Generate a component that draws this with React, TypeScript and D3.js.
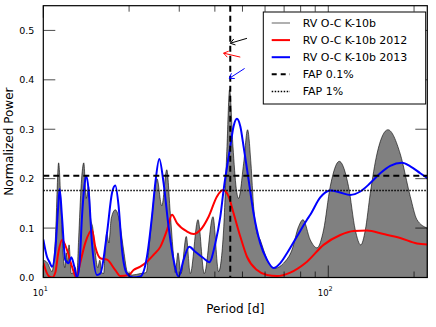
import React from 'react';
import * as d3 from 'd3';

// periodogram of the residuals, all seasons
const grayPeriod = [10.0, 10.33, 10.73, 11.02, 11.32, 11.54, 11.73, 11.9, 12.04, 12.17, 12.31, 12.54, 12.74, 12.95, 13.11,
    13.3, 13.59, 13.87, 14.15, 14.42, 14.65, 14.92, 15.22, 15.53, 15.79, 16.04, 16.28, 16.5, 16.7, 16.98, 17.32, 17.89,
    18.33, 18.63, 19.13, 19.76, 20.52, 21.9, 22.98, 23.41, 24.12, 25.06, 26.05, 27.12, 27.9, 28.52, 29.05, 29.69, 30.42,
    31.75, 32.79, 34.9, 36.72, 39.39, 41.22, 42.92, 44.12, 45.05, 46.3, 47.55, 48.45, 50.45, 52.1, 53.55, 54.69, 56.21,
    57.73, 59.29, 61.73, 65.17, 69.69, 74.59, 78.67, 81.52, 86.47, 91.28, 96.27, 101.6, 109.3, 117.8, 124.4, 130.0,
    134.9, 140.4, 148.2, 162.0, 178.9, 194.0, 204.8, 222.6];
const grayPower = [0.035, 0.03, 0.012, 0.076, 0.232, 0.144, 0.05, 0.02, 0.05, 0.03, 0.066, 0.008, 0.01, 0.02, 0.003,
    0.076, 0.19, 0.232, 0.16, 0.184, 0.12, 0.1, 0.05, 0.02, 0.035, 0.01, 0.008, 0.06, 0.09, 0.07, 0.12, 0.137,
    0.125, 0.103, 0.056, 0.01, 0.005, 0.008, 0.01, 0.05, 0.13, 0.2, 0.145, 0.218, 0.13, 0.056, 0.01, 0.05, 0.008,
    0.083, 0.008, 0.117, 0.008, 0.123, 0.012, 0.096, 0.265, 0.38, 0.265, 0.18, 0.16, 0.23, 0.299, 0.23, 0.144, 0.09,
    0.076, 0.056, 0.029, 0.019, 0.029, 0.056, 0.103, 0.117, 0.076, 0.06, 0.096, 0.184, 0.235, 0.184, 0.096, 0.066,
    0.096, 0.17, 0.25, 0.299, 0.25, 0.164, 0.117, 0.1];

// 2012 season
const redPeriod = [10.0, 10.44, 10.75, 11.02, 11.29, 11.63, 12.11, 12.61, 13.06, 13.48, 14.04, 14.82, 15.22, 15.85,
    16.73, 17.89, 18.63, 19.92, 20.74, 21.9, 23.11, 24.38, 25.74, 27.17, 28.29, 29.45, 31.93, 33.68, 35.56, 38.02,
    40.69, 42.71, 44.69, 46.53, 49.12, 51.85, 56.21, 60.94, 66.07, 73.56, 84.2, 96.27, 110.2, 122.7, 136.7, 156.3,
    178.9, 204.8, 222.6];
const redPower = [0.03, 0.003, 0.0, 0.01, 0.05, 0.076, 0.056, 0.022, 0.0, 0.03, 0.07, 0.096, 0.062, 0.039,
    0.036, 0.015, 0.003, 0.005, 0.015, 0.022, 0.032, 0.046, 0.062, 0.096, 0.127, 0.11, 0.093, 0.088, 0.096, 0.123,
    0.164, 0.177, 0.164, 0.13, 0.083, 0.042, 0.015, 0.005, 0.003, 0.01, 0.032, 0.066, 0.086, 0.094, 0.095, 0.088,
    0.08, 0.069, 0.067];

// 2013 season
const bluePeriod = [10.0, 10.3, 10.5, 10.73, 11.02, 11.26, 11.41, 11.63, 11.94, 12.27, 12.54, 12.85, 13.13, 13.41,
    13.67, 13.93, 14.15, 14.42, 14.82, 15.43, 15.85, 16.73, 17.42, 17.89, 18.38, 18.89, 19.66, 20.74, 21.9, 23.11,
    24.06, 24.72, 25.53, 26.43, 27.52, 28.65, 29.84, 31.07, 32.53, 34.14, 36.52, 38.23, 40.13, 41.8, 42.92, 45.31,
    46.53, 47.82, 49.12, 50.45, 52.52, 54.69, 57.73, 60.94, 64.29, 67.86, 71.63, 77.65, 84.2, 86.47, 93.74, 101.6,
    110.2, 119.4, 129.5, 140.4, 152.2, 165.0, 181.4, 194.0, 210.3, 222.6];
const bluePower = [0.077, 0.042, 0.032, 0.022, 0.056, 0.137, 0.179, 0.123, 0.036, 0.029, 0.041, 0.022, 0.0, 0.03,
    0.123, 0.184, 0.206, 0.177, 0.069, 0.005, 0.008, 0.09, 0.171, 0.186, 0.144, 0.056, 0.008, 0.0, 0.002, 0.042,
    0.123, 0.191, 0.24, 0.191, 0.103, 0.036, 0.002, 0.036, 0.062, 0.052, 0.039, 0.031, 0.069, 0.123, 0.177, 0.265,
    0.306, 0.321, 0.306, 0.265, 0.198, 0.13, 0.069, 0.036, 0.019, 0.029, 0.049, 0.083, 0.117, 0.127, 0.162, 0.176,
    0.172, 0.167, 0.174, 0.191, 0.211, 0.226, 0.232, 0.225, 0.211, 0.201];

const fapLevels = [0.206, 0.176];
const planetPeriod = 45.3;
const yTicks = [0.0, 0.1, 0.2, 0.3, 0.4, 0.5];
const xMajor = [10, 100];
const xMinor = [20, 30, 40, 50, 60, 70, 80, 90, 200];
const legendLabels = ['RV O-C K-10b', 'RV O-C K-10b 2012', 'RV O-C K-10b 2013', 'FAP 0.1%', 'FAP 1%'];

// annotation arrows: tail and tip as [period, power]
const arrows = [
    {color: 'black', tail: [51.85, 0.484], tip: [45.3, 0.474]},
    {color: 'red', tail: [49.12, 0.446], tip: [42.92, 0.454]},
    {color: 'blue', tail: [50.86, 0.423], tip: [44.94, 0.403]}
];

const W = 436;
const H = 327;
const margin = {top: 5.7, right: 8.7, bottom: 49.5, left: 43.3};
const font = 'DejaVu Sans, sans-serif';

function zip(px: number[], py: number[])
{
    return px.map((p, i) => [p, py[i]] as [number, number]);
}

export default function App()
{
    const w = W - margin.left - margin.right;
    const h = H - margin.top - margin.bottom;

    const x = d3.scaleLog().domain([10, 222.6]).range([0, w]);
    const y = d3.scaleLinear().domain([0, 0.55]).range([h, 0]);

    const line = d3.line<[number, number]>()
        .x(d => x(d[0]))
        .y(d => y(d[1]))
        .curve(d3.curveMonotoneX);

    const area = d3.area<[number, number]>()
        .x(d => x(d[0]))
        .y0(h)
        .y1(d => y(d[1]))
        .curve(d3.curveMonotoneX);

    const gray = zip(grayPeriod, grayPower);
    const red = zip(redPeriod, redPower);
    const blue = zip(bluePeriod, bluePower);

    const arrowEls = arrows.map((a, i) =>
    {
        const x1 = x(a.tail[0]), y1 = y(a.tail[1]);
        const x2 = x(a.tip[0]), y2 = y(a.tip[1]);
        const ang = Math.atan2(y2 - y1, x2 - x1);
        const len = 5.5, spread = 0.6;
        const hx1 = x2 - len * Math.cos(ang - spread), hy1 = y2 - len * Math.sin(ang - spread);
        const hx2 = x2 - len * Math.cos(ang + spread), hy2 = y2 - len * Math.sin(ang + spread);
        return (
            <g key={i} stroke={a.color} strokeWidth={1} fill="none">
                <line x1={x1} y1={y1} x2={x2} y2={y2}/>
                <polyline points={`${hx1},${hy1} ${x2},${y2} ${hx2},${hy2}`}/>
            </g>
        );
    });

    const legendX = 263.3 - margin.left;
    const legendY = 12 - margin.top;
    const rowH = 17.1;
    const legendStyles = [
        {stroke: '#b0b0b0', dash: undefined, width: 2},
        {stroke: 'red', dash: undefined, width: 2},
        {stroke: 'blue', dash: undefined, width: 2},
        {stroke: 'black', dash: '5,4', width: 2},
        {stroke: 'black', dash: '1.5,1.5', width: 1.5}
    ];

    return (
        <svg width={W} height={H} style={{position: 'absolute', left: 0, top: 0, background: 'white'}}>
            <defs>
                <clipPath id="plotClip">
                    <rect x={0} y={0} width={w} height={h}/>
                </clipPath>
            </defs>
            <g transform={`translate(${margin.left},${margin.top})`}>
                <g clipPath="url(#plotClip)">
                    <path d={area(gray) || ''} fill="#808080" stroke="black" strokeWidth={0.6}/>
                    <path d={line(red) || ''} fill="none" stroke="red" strokeWidth={2}/>
                    <path d={line(blue) || ''} fill="none" stroke="blue" strokeWidth={2}/>
                    <line x1={0} x2={w} y1={y(fapLevels[0])} y2={y(fapLevels[0])}
                          stroke="black" strokeWidth={2} strokeDasharray="6,4"/>
                    <line x1={0} x2={w} y1={y(fapLevels[1])} y2={y(fapLevels[1])}
                          stroke="black" strokeWidth={1.5} strokeDasharray="1.5,1.5"/>
                    <line x1={x(planetPeriod)} x2={x(planetPeriod)} y1={0} y2={h}
                          stroke="black" strokeWidth={2} strokeDasharray="6,4"/>
                    {arrowEls}
                </g>

                {/* ticks */}
                <g stroke="black" strokeWidth={0.7}>
                    {yTicks.map(t => (
                        <g key={t}>
                            <line x1={0} x2={12} y1={y(t)} y2={y(t)}/>
                            <line x1={w} x2={w - 12} y1={y(t)} y2={y(t)}/>
                        </g>
                    ))}
                    {xMajor.map(t => (
                        <g key={t}>
                            <line x1={x(t)} x2={x(t)} y1={h} y2={h - 12}/>
                            <line x1={x(t)} x2={x(t)} y1={0} y2={12}/>
                        </g>
                    ))}
                    {xMinor.map(t => (
                        <g key={t}>
                            <line x1={x(t)} x2={x(t)} y1={h} y2={h - 6}/>
                            <line x1={x(t)} x2={x(t)} y1={0} y2={6}/>
                        </g>
                    ))}
                </g>

                <rect x={0} y={0} width={w} height={h} fill="none" stroke="black" strokeWidth={1.2}/>

                {/* tick labels */}
                <g fontFamily={font} fontSize={9.5} fill="black">
                    {yTicks.map(t => (
                        <text key={t} x={-9} y={y(t)} textAnchor="end" dominantBaseline="central">
                            {d3.format('.1f')(t)}
                        </text>
                    ))}
                    {xMajor.map(t => (
                        <text key={t} x={x(t) - 3} y={h + 18.8} textAnchor="middle" fontSize={8.5}>
                            10
                            <tspan dy={-5} fontSize={6.5}>{Math.round(Math.log10(t))}</tspan>
                        </text>
                    ))}
                </g>

                <text x={w / 2} y={h + 35.5} textAnchor="middle" fontFamily={font} fontSize={12}>Period [d]</text>
                <text transform={`translate(${8.5 - margin.left},${h / 2}) rotate(-90)`} textAnchor="middle"
                      dominantBaseline="central" fontFamily={font} fontSize={12}>Normalized Power</text>

                {/* legend */}
                <g transform={`translate(${legendX},${legendY})`}>
                    <rect x={0} y={0} width={162.4} height={92} fill="white" stroke="black" strokeWidth={1}/>
                    {legendLabels.map((lbl, i) =>
                    {
                        const s = legendStyles[i];
                        const cy = 11 + i * rowH;
                        return (
                            <g key={lbl}>
                                <line x1={8.4} x2={26.7} y1={cy} y2={cy} stroke={s.stroke}
                                      strokeWidth={s.width} strokeDasharray={s.dash}/>
                                <text x={39.4} y={cy} dominantBaseline="central" fontFamily={font}
                                      fontSize={11}>{lbl}</text>
                            </g>
                        );
                    })}
                </g>
            </g>
        </svg>
    );
}
